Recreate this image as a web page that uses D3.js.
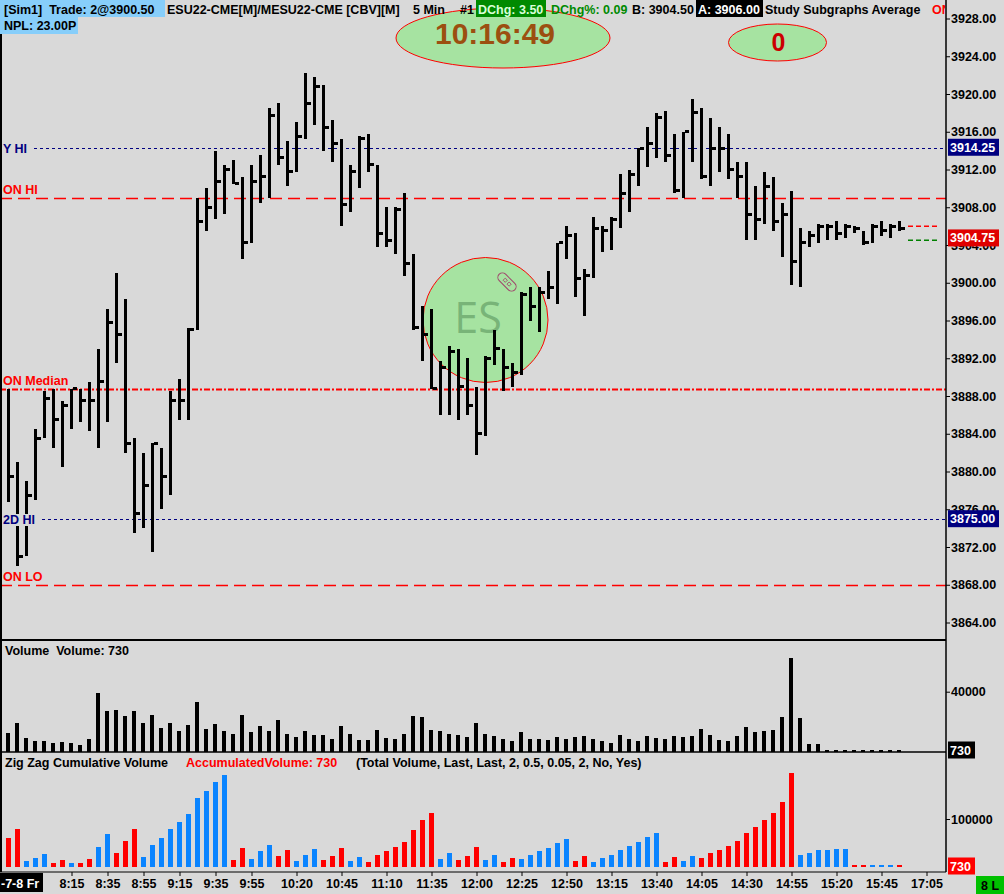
<!DOCTYPE html>
<html>
<head>
<meta charset="utf-8">
<script src="https://cdn.jsdelivr.net/npm/d3@7"></script>
<style>
  body { margin: 0; background: #d9d9d9; overflow: hidden; }
  svg text { font-family: "Liberation Sans", Arial, sans-serif; font-weight: bold; white-space: pre; }
</style>
</head>
<body>
<div id="chart"></div>
<script>
// bar n = 7:40 + 5 min * n  (5 Min bars, ESU22)
var highs = [3888.75, 3881.0, 3879.0, 3884.5, 3888.5, 3888.75, 3887.5, 3888.75, 3888.75, 3889.5,
  3893.0, 3897.25, 3901.0, 3898.25, 3883.5, 3882.0, 3883.0, 3882.5, 3888.5, 3889.75,
  3895.25, 3909.0, 3910.0, 3914.0, 3912.5, 3913.0, 3911.25, 3912.5, 3913.5, 3918.5,
  3919.0, 3915.0, 3917.0, 3922.25, 3921.75, 3921.0, 3917.25, 3915.25, 3912.5, 3915.5,
  3915.75, 3912.5, 3908.0, 3908.0, 3909.5, 3903.0, 3897.5, 3897.25, 3891.75, 3893.25,
  3893.0, 3892.0, 3889.0, 3892.25, 3895.0, 3893.0, 3891.5, 3899.0, 3899.5, 3899.5,
  3901.25, 3904.25, 3906.0, 3905.25, 3901.5, 3907.0, 3906.0, 3907.0, 3911.5, 3912.0,
  3914.25, 3916.5, 3918.0, 3918.25, 3915.75, 3916.0, 3919.5, 3918.5, 3917.5, 3916.5,
  3915.75, 3912.75, 3912.75, 3910.25, 3911.75, 3911.25, 3908.5, 3909.75, 3905.75, 3905.5,
  3906.25, 3906.25, 3906.5, 3906.25, 3906.0, 3905.5, 3906.25, 3906.5, 3906.25, 3906.5];
var lows = [3876.75, 3870.0, 3871.0, 3877.0, 3883.5, 3882.5, 3880.5, 3884.5, 3885.25, 3884.25,
  3882.5, 3885.25, 3891.5, 3882.0, 3873.5, 3874.0, 3871.5, 3876.0, 3877.5, 3885.5,
  3885.5, 3895.0, 3905.5, 3906.75, 3907.25, 3910.5, 3902.5, 3904.25, 3908.5, 3909.0,
  3912.5, 3910.25, 3911.75, 3915.25, 3916.75, 3914.0, 3912.75, 3906.0, 3907.5, 3910.0,
  3911.75, 3903.75, 3903.75, 3903.0, 3900.75, 3895.0, 3891.75, 3888.75, 3886.0, 3886.0,
  3885.5, 3886.0, 3881.75, 3883.75, 3891.25, 3888.5, 3889.0, 3890.25, 3896.0, 3894.75,
  3898.25, 3897.75, 3902.5, 3898.5, 3896.5, 3900.5, 3903.25, 3903.5, 3905.75, 3907.5,
  3910.25, 3912.25, 3913.25, 3912.75, 3909.5, 3909.0, 3912.75, 3911.0, 3910.25, 3911.75,
  3911.0, 3909.0, 3904.5, 3904.5, 3906.25, 3905.5, 3902.75, 3899.75, 3899.5, 3903.75,
  3904.25, 3904.5, 3904.5, 3904.75, 3905.25, 3904.0, 3904.25, 3905.0, 3904.75, 3905.5];
var closes = [3879.5, 3871.0, 3877.5, 3883.5, 3887.75, 3885.5, 3887.0, 3888.75, 3887.5, 3887.5,
  3889.5, 3895.75, 3894.5, 3883.0, 3875.5, 3878.5, 3883.0, 3879.5, 3887.5, 3887.5,
  3895.0, 3906.5, 3908.0, 3910.75, 3912.0, 3910.5, 3904.25, 3910.75, 3911.25, 3917.75,
  3913.25, 3911.75, 3915.5, 3919.0, 3920.75, 3916.5, 3914.75, 3908.25, 3911.75, 3915.25,
  3912.5, 3905.25, 3904.5, 3907.75, 3902.0, 3895.25, 3894.5, 3888.75, 3891.0, 3892.75,
  3889.0, 3887.0, 3884.0, 3892.0, 3893.0, 3891.0, 3890.5, 3898.75, 3897.5, 3899.0,
  3899.5, 3904.25, 3905.0, 3900.5, 3900.75, 3905.75, 3905.5, 3906.75, 3909.5, 3911.5,
  3914.25, 3914.75, 3917.5, 3913.5, 3909.75, 3916.0, 3918.0, 3911.25, 3914.25, 3914.25,
  3912.0, 3911.25, 3907.25, 3906.75, 3910.25, 3906.5, 3907.25, 3902.25, 3904.25, 3905.0,
  3906.0, 3906.0, 3905.25, 3906.0, 3905.75, 3904.25, 3906.0, 3905.5, 3906.0, 3905.75];
var volumes = [12450, 19100, 9100, 7100, 7100, 5800, 6450, 5800, 4450, 8450,
  39100, 27100, 27800, 23800, 27100, 19100, 24450, 15800, 19100, 13800,
  17800, 33100, 15100, 18450, 13800, 11800, 24450, 13100, 17100, 13800,
  21100, 11800, 9800, 13800, 11100, 11100, 8450, 17100, 11800, 7800,
  7800, 14450, 9100, 8450, 11800, 23800, 23100, 14450, 13800, 11800,
  11100, 9800, 19100, 11800, 10450, 8450, 7100, 13100, 8450, 8450,
  7800, 9800, 8450, 9800, 10450, 8450, 7100, 5800, 11100, 8450,
  7100, 10450, 9100, 8450, 10450, 9800, 10450, 15100, 11100, 7800,
  7100, 10450, 16450, 13100, 13800, 14450, 23100, 62450, 22450, 5100,
  5100, 1100, 1100, 450, 450, 1100, 450, 450, 450, 730];
var zzVolumes = [60150, 79000, 11950, 18200, 26600, 7750, 14050, 7750, 7750, 16150,
  41300, 68550, 28700, 53850, 79000, 20350, 45500, 60150, 79000, 93700,
  110450, 144000, 158650, 177500, 192200, 14050, 39200, 16150, 32900, 45500,
  22450, 35000, 11950, 24500, 37100, 14050, 22450, 39200, 11950, 20350,
  9850, 24500, 32900, 41300, 51750, 76900, 97900, 112550, 16150, 28700,
  14050, 22450, 41300, 14050, 24500, 9850, 18200, 16150, 24500, 32900,
  39200, 49700, 58050, 11950, 22450, 9850, 18200, 24500, 35000, 43400,
  51750, 62250, 70650, 9850, 20350, 11950, 22450, 18200, 28700, 35000,
  43400, 53850, 70650, 83200, 97900, 112550, 135600, 196400, 24500, 28700,
  35000, 35000, 37100, 37100, 1200, 1650, 1100, 1550, 2000, 730];
// 1 = up leg (blue), -1 = down leg (red)
var zzDirection = [-1, -1, 1, 1, 1, -1, -1, 1, -1, -1,
  1, 1, -1, -1, -1, 1, 1, 1, 1, 1,
  1, 1, 1, 1, 1, -1, -1, 1, 1, 1,
  -1, -1, 1, 1, 1, -1, -1, -1, 1, 1,
  -1, -1, -1, -1, -1, -1, -1, -1, 1, 1,
  -1, -1, -1, 1, 1, -1, -1, 1, 1, 1,
  1, 1, 1, -1, -1, 1, 1, 1, 1, 1,
  1, 1, 1, -1, -1, 1, 1, -1, -1, -1,
  -1, -1, -1, -1, -1, -1, -1, -1, 1, 1,
  1, 1, 1, 1, -1, -1, 1, 1, 1, -1];

var timeLabels = ["8:15", "8:35", "8:55", "9:15", "9:35", "9:55", "10:20", "10:45", "11:10", "11:35",
  "12:00", "12:25", "12:50", "13:15", "13:40", "14:05", "14:30", "14:55", "15:20", "15:45", "17:05"];
var timeLabelBars = [7, 11, 15, 19, 23, 27, 32, 37, 42, 47, 52, 57, 62, 67, 72, 77, 82, 87, 92, 97, 102];
var priceTicks = [3864, 3868, 3872, 3876, 3880, 3884, 3888, 3892, 3896, 3900, 3904, 3908, 3912, 3916, 3920, 3924, 3928];

var levelNames = ["Y HI", "ON HI", "ON Median", "2D HI", "ON LO"];
var levelPrices = [3914.25, 3909.0, 3888.75, 3875.0, 3868.0];

var lastPrice = 3904.75;
var bidPrice = 3904.5;
var askPrice = 3906.0;
var clockText = "10:16:49";

var svgWidth = 1004;
var svgHeight = 894;
var axisX = 946;

var svg = d3.select("#chart")
  .append("svg")
  .attr("width", svgWidth)
  .attr("height", svgHeight);

svg.append("rect").attr("width", svgWidth).attr("height", svgHeight).attr("fill", "#d9d9d9");

// scales
var xScale = d3.scaleLinear().domain([0, 104]).range([8.5, 8.5 + 9 * 104]);
var yPrice = d3.scaleLinear().domain([3864, 3928]).range([622.5, 18.5]);
var yVol = d3.scaleLinear().domain([0, 40000]).range([751.5, 691.7]);
var yZZ = d3.scaleLinear().domain([0, 100000]).range([866.5, 819]);

var bars = d3.range(highs.length).map(function(i) {
  return { i: i, h: highs[i], l: lows[i], c: closes[i], v: volumes[i], zz: zzVolumes[i], dir: zzDirection[i] };
});

// ES circle and the two ovals
svg.append("circle")
  .attr("cx", 485.5).attr("cy", 320).attr("r", 62.5)
  .attr("fill", "#a6e3a1").attr("stroke", "red").attr("stroke-width", 1);
svg.append("text")
  .attr("x", 478).attr("y", 333)
  .attr("text-anchor", "middle")
  .style("font-family", "'Open Sans', sans-serif")
  .style("font-weight", "normal")
  .attr("font-size", "43px")
  .attr("fill", "#78b478")
  .text("ES");
var icon = svg.append("g").attr("transform", "translate(507,282) rotate(45)");
icon.append("rect").attr("x", -11).attr("y", -4.5).attr("width", 22).attr("height", 9).attr("rx", 4.5)
  .attr("fill", "none").attr("stroke", "#a0406a").attr("stroke-width", 1);
icon.append("rect").attr("x", -4).attr("y", -1.5).attr("width", 3).attr("height", 3)
  .attr("fill", "none").attr("stroke", "#a0406a").attr("stroke-width", 0.8);
icon.append("rect").attr("x", 1.5).attr("y", -1.5).attr("width", 3).attr("height", 3)
  .attr("fill", "none").attr("stroke", "#a0406a").attr("stroke-width", 0.8);

svg.append("ellipse")
  .attr("cx", 503).attr("cy", 38).attr("rx", 107).attr("ry", 30)
  .attr("fill", "#a6e3a1").attr("stroke", "red").attr("stroke-width", 1);
svg.append("text")
  .attr("x", 495).attr("y", 44)
  .attr("text-anchor", "middle")
  .attr("font-size", "30px")
  .attr("fill", "#9c4f10")
  .text(clockText);

svg.append("ellipse")
  .attr("cx", 777.5).attr("cy", 42.5).attr("rx", 49).attr("ry", 18.5)
  .attr("fill", "#a6e3a1").attr("stroke", "red").attr("stroke-width", 1);
svg.append("text")
  .attr("x", 778.5).attr("y", 50.5)
  .attr("text-anchor", "middle")
  .attr("font-size", "25px")
  .attr("fill", "#cc0000")
  .text("0");

// level lines
var levelColor = ["#000080", "#ff0000", "#ff0000", "#000080", "#ff0000"];
var levelDash = ["3,3", "12,6", "6,2,2,2", "3,3", "12,6"];
var levelWidth = [1, 1.5, 2, 1, 1.5];
var levelStart = [34, 0, 0, 42, 0];
levelPrices.forEach(function(p, k) {
  svg.append("line")
    .attr("x1", levelStart[k]).attr("x2", axisX)
    .attr("y1", Math.round(yPrice(p)) + 0.5).attr("y2", Math.round(yPrice(p)) + 0.5)
    .attr("stroke", levelColor[k])
    .attr("stroke-width", levelWidth[k])
    .attr("stroke-dasharray", levelDash[k]);
});

// bid / ask markers at the end of the bars
svg.append("line")
  .attr("x1", 908).attr("x2", 938)
  .attr("y1", yPrice(askPrice)).attr("y2", yPrice(askPrice))
  .attr("stroke", "#ff0000").attr("stroke-width", 1.5).attr("stroke-dasharray", "5,3");
svg.append("line")
  .attr("x1", 908).attr("x2", 938)
  .attr("y1", yPrice(bidPrice)).attr("y2", yPrice(bidPrice))
  .attr("stroke", "#008000").attr("stroke-width", 1.5).attr("stroke-dasharray", "5,3");

// HLC bars
var priceGroup = svg.append("g").attr("shape-rendering", "crispEdges");
priceGroup.selectAll(".hl")
  .data(bars)
  .enter()
  .append("rect")
  .attr("x", d => xScale(d.i) - 1.5)
  .attr("width", 3)
  .attr("y", d => yPrice(d.h))
  .attr("height", d => Math.max(2, yPrice(d.l) - yPrice(d.h)))
  .attr("fill", "black");
priceGroup.selectAll(".cl")
  .data(bars)
  .enter()
  .append("rect")
  .attr("x", d => xScale(d.i) + 1.5)
  .attr("width", 4)
  .attr("y", d => yPrice(d.c) - 1.5)
  .attr("height", 3)
  .attr("fill", "black");

// level labels (drawn over the bars with chart background)
var labelDy = [5, -4, -4, 5, -4];
levelNames.forEach(function(name, k) {
  var y = Math.round(yPrice(levelPrices[k])) + labelDy[k];
  var t = svg.append("text")
    .attr("x", 3).attr("y", y)
    .attr("font-size", "12.5px")
    .attr("fill", levelColor[k])
    .text(name);
  var w = t.node().getComputedTextLength();
  svg.insert("rect", function() { return t.node(); })
    .attr("x", 2).attr("y", y - 10).attr("width", w + 2).attr("height", 12)
    .attr("fill", "#d9d9d9");
});

// volume pane
svg.append("g").attr("shape-rendering", "crispEdges")
  .selectAll("rect")
  .data(bars)
  .enter()
  .append("rect")
  .attr("x", d => xScale(d.i) - 2.5)
  .attr("width", 4)
  .attr("y", d => Math.min(yVol(d.v), 749.5))
  .attr("height", d => Math.max(2, 751.5 - yVol(d.v)))
  .attr("fill", "black");

// zig zag cumulative volume pane
svg.append("g").attr("shape-rendering", "crispEdges")
  .selectAll("rect")
  .data(bars)
  .enter()
  .append("rect")
  .attr("x", d => xScale(d.i) - 2.5)
  .attr("width", 5)
  .attr("y", d => Math.min(yZZ(d.zz), 864.5))
  .attr("height", d => Math.max(2, 866.5 - yZZ(d.zz)))
  .attr("fill", d => d.dir > 0 ? "#0a84ff" : "#ff0000");

// frame lines
svg.append("line").attr("x1", 1).attr("x2", 1).attr("y1", 0).attr("y2", 872).attr("stroke", "black").attr("stroke-width", 2);
svg.append("line").attr("x1", 0).attr("x2", axisX).attr("y1", 640).attr("y2", 640).attr("stroke", "black").attr("stroke-width", 2);
svg.append("line").attr("x1", 0).attr("x2", axisX).attr("y1", 752).attr("y2", 752).attr("stroke", "black").attr("stroke-width", 1.5);
svg.append("line").attr("x1", 0).attr("x2", axisX).attr("y1", 872).attr("y2", 872).attr("stroke", "black").attr("stroke-width", 1);
svg.append("line").attr("x1", axisX).attr("x2", axisX).attr("y1", 0).attr("y2", 872).attr("stroke", "black").attr("stroke-width", 1.5);

// right axes
function styleAxis(g) {
  g.select(".domain").remove();
  g.selectAll("text").attr("font-size", "12.5px").attr("fill", "black")
    .style("font-family", "'Liberation Sans', Arial, sans-serif").style("font-weight", "bold");
  g.selectAll("line").attr("stroke", "black");
}
svg.append("g")
  .attr("transform", `translate(${axisX}, 0)`)
  .call(d3.axisRight(yPrice).tickValues(priceTicks).tickFormat(d3.format(".2f")).tickSize(4).tickPadding(1))
  .call(styleAxis);
svg.append("g")
  .attr("transform", `translate(${axisX}, 0)`)
  .call(d3.axisRight(yVol).tickValues([40000]).tickFormat(d3.format("d")).tickSize(4).tickPadding(1))
  .call(styleAxis);
svg.append("g")
  .attr("transform", `translate(${axisX}, 0)`)
  .call(d3.axisRight(yZZ).tickValues([100000]).tickFormat(d3.format("d")).tickSize(4).tickPadding(1))
  .call(styleAxis);

// highlighted axis values
function axisBox(y, txt, bg, w) {
  svg.append("rect").attr("x", 948).attr("y", y - 8.5).attr("width", w).attr("height", 17).attr("fill", bg);
  svg.append("text").attr("x", 950).attr("y", y + 4.5).attr("font-size", "12.5px").attr("fill", "white").text(txt);
}
axisBox(yPrice(levelPrices[0]) - 1, d3.format(".2f")(levelPrices[0]), "#000080", 51);
axisBox(yPrice(lastPrice), d3.format(".2f")(lastPrice), "#e00000", 51);
axisBox(yPrice(levelPrices[3]), d3.format(".2f")(levelPrices[3]), "#000080", 51);
axisBox(750, String(volumes[volumes.length - 1]), "black", 27);
axisBox(866, String(zzVolumes[zzVolumes.length - 1]), "#ff0000", 27);

// time axis
var timeAxis = d3.axisBottom(xScale)
  .tickValues(timeLabelBars)
  .tickFormat((d, k) => timeLabels[k])
  .tickSize(4)
  .tickPadding(3);
svg.append("g")
  .attr("transform", "translate(0, 872)")
  .call(timeAxis)
  .call(styleAxis);

svg.append("rect").attr("x", 0).attr("y", 873).attr("width", 43).attr("height", 19).attr("fill", "black");
svg.append("text").attr("x", 1).attr("y", 888).attr("font-size", "12.5px").attr("fill", "white").text("-7-8 Fr");
svg.append("rect").attr("x", 976).attr("y", 876).attr("width", 28).attr("height", 18).attr("fill", "#00c000");
svg.append("text").attr("x", 981).attr("y", 890).attr("font-size", "12.5px").attr("fill", "black").text("8 L");

// pane titles
function title(x, y, txt, color) {
  return svg.append("text").attr("x", x).attr("y", y).attr("font-size", "12.5px").attr("fill", color).text(txt);
}
title(5, 655, "Volume  Volume: " + volumes[volumes.length - 1], "black");
title(5, 767, "Zig Zag Cumulative Volume", "black");
title(186, 767, "AccumulatedVolume: " + zzVolumes[zzVolumes.length - 1], "#ff0000");
title(356, 767, "(Total Volume, Last, Last, 2, 0.5, 0.05, 2, No, Yes)", "black");

// header line
svg.append("rect").attr("x", 0).attr("y", 0).attr("width", 165).attr("height", 17).attr("fill", "#87cefa");
svg.append("rect").attr("x", 0).attr("y", 17).attr("width", 78).attr("height", 17).attr("fill", "#87cefa");
svg.append("rect").attr("x", 476).attr("y", 0).attr("width", 70).attr("height", 17).attr("fill", "#008a00");
svg.append("rect").attr("x", 696).attr("y", 0).attr("width", 67).attr("height", 17).attr("fill", "black");
title(4, 14, "[Sim1]  Trade: 2@3900.50", "black");
title(4, 30, "NPL: 23.00P", "black");
title(167, 14, "ESU22-CME[M]/MESU22-CME [CBV][M]", "black");
title(413, 14, "5 Min", "black");
title(460, 14, "#1", "black");
title(478, 14, "DChg: 3.50", "#d8ffd8");
title(551, 14, "DChg%: 0.09", "#008a00");
title(632, 14, "B: 3904.50", "black");
title(698, 14, "A: " + d3.format(".2f")(askPrice), "white");
title(765, 14, "Study Subgraphs Average", "black");
svg.append("svg").attr("x", 0).attr("y", 0).attr("width", axisX - 1).attr("height", 20)
  .append("text").attr("x", 932).attr("y", 14).attr("font-size", "12.5px").attr("fill", "#ff0000").text("ON");
</script>
</body>
</html>
